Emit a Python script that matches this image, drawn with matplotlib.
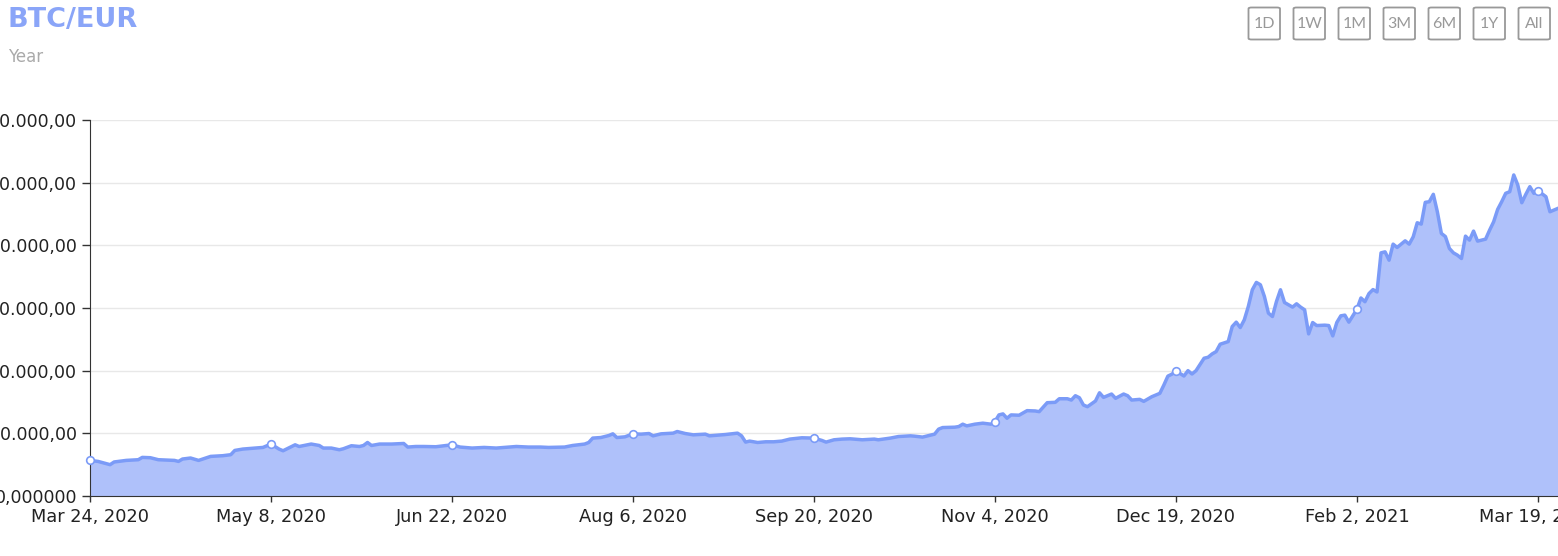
import matplotlib
matplotlib.use("Agg")
from matplotlib import pyplot as plt
from matplotlib.patches import FancyBboxPatch
import numpy as np
import pandas as pd

plt.rcParams['font.family'] = ['DejaVu Sans']

# days after Mar 24, 2020 and BTC/EUR price
days = [0, 2, 5, 6, 9, 12, 13, 15, 17, 21, 22, 23, 25, 27, 30, 33, 35, 36, 38, 43,
        45, 47, 48, 51, 52, 55, 57, 58, 60, 62, 63, 65, 67, 68, 69, 70, 72, 75, 78, 79,
        81, 83, 86, 90, 92, 95, 98, 101, 104, 106, 109, 112, 114, 118, 120, 123, 124, 125, 127, 129,
        130, 131, 133, 135, 137, 139, 140, 142, 145, 146, 148, 150, 153, 154, 156, 158, 161, 162, 163, 164,
        166, 168, 170, 172, 174, 177, 180, 182, 183, 185, 187, 189, 192, 195, 196, 199, 201, 204, 205, 207,
        210, 211, 212, 215, 216, 217, 218, 220, 222, 224, 225, 226, 227, 228, 229, 231, 233, 235, 236, 238,
        240, 241, 243, 244, 245, 246, 247, 248, 250, 251, 252, 254, 255, 257, 258, 259, 261, 262, 264, 266,
        267, 268, 269, 270, 272, 273, 274, 275, 277, 278, 279, 280, 281, 283, 284, 285, 286, 287, 288, 289,
        290, 291, 292, 293, 294, 295, 296, 297, 299, 300, 301, 302, 303, 304, 305, 307, 308, 309, 310, 311,
        312, 313, 315, 316, 317, 318, 319, 320, 321, 322, 323, 324, 325, 327, 328, 329, 330, 331, 332, 333,
        334, 335, 336, 337, 338, 339, 340, 341, 342, 343, 344, 345, 347, 348, 349, 350, 351, 352, 353, 354,
        355, 356, 357, 358, 359, 360, 362, 363, 364, 365]
price = [5680, 5520, 5000, 5430, 5680, 5790, 6160, 6110, 5790, 5680, 5520, 5900, 6060, 5680, 6320, 6430, 6590, 7270, 7490, 7750,
         8290, 7490, 7220, 8170, 7900, 8290, 8060, 7650, 7650, 7380, 7540, 8020, 7900, 8060, 8540, 8060, 8290, 8290, 8380, 7810,
         7900, 7900, 7860, 8170, 7810, 7650, 7750, 7650, 7810, 7900, 7810, 7810, 7750, 7810, 8060, 8290, 8540, 9240, 9330, 9650,
         9920, 9330, 9440, 9920, 9870, 9970, 9600, 9920, 10030, 10290, 9970, 9760, 9870, 9600, 9710, 9810, 10030, 9600, 8600, 8760,
         8540, 8650, 8650, 8760, 9080, 9290, 9240, 8860, 8600, 8970, 9080, 9130, 8970, 9080, 8970, 9240, 9490, 9600, 9550, 9400,
         9870, 10670, 10920, 10980, 11080, 11460, 11190, 11460, 11620, 11460, 11870, 12940, 13100, 12410, 12940, 12890, 13620, 13570, 13460, 14890,
         14950, 15520, 15520, 15310, 16000, 15680, 14520, 14250, 15160, 16470, 15740, 16270, 15590, 16270, 16000, 15310, 15420, 15100, 15840, 16380,
         17700, 19130, 19440, 19970, 19150, 20000, 19470, 20000, 21980, 22140, 22670, 23040, 24220, 24640, 27040, 27740, 26880, 28110, 30240, 32910,
         34080, 33710, 31840, 29180, 28640, 31040, 32910, 30880, 30140, 30670, 30140, 29710, 25870, 27680, 27200, 27260, 27200, 25550, 27680, 28750,
         28860, 27740, 29800, 31600, 31000, 32300, 32940, 32560, 38800, 38960, 37630, 40190, 39660, 40720, 40190, 41360, 43600, 43390, 46860, 46960,
         48140, 45360, 41900, 41400, 39500, 38800, 38430, 37900, 41470, 40830, 42270, 40670, 40990, 42430, 43760, 45740, 46960, 48300, 48560, 51230,
         49630, 46800, 48140, 49360, 48300, 48720, 47760, 45360, 45630, 45900]

tick_dates = ["2020-03-24", "2020-05-08", "2020-06-22", "2020-08-06", "2020-09-20",
              "2020-11-04", "2020-12-19", "2021-02-02", "2021-03-19"]
tick_labels = ["Mar 24, 2020", "May 8, 2020", "Jun 22, 2020", "Aug 6, 2020", "Sep 20, 2020",
               "Nov 4, 2020", "Dec 19, 2020", "Feb 2, 2021", "Mar 19, 2021"]
y_ticks = [0, 10000, 20000, 30000, 40000, 50000, 60000]
y_labels = ["0,000000", "10.000,00", "20.000,00", "30.000,00", "40.000,00", "50.000,00", "60.000,00"]
buttons = ["1D", "1W", "1M", "3M", "6M", "1Y", "All"]

line_col = '#7b9bf7'
fill_col = '#afc1fa'

W, H = 1558, 556
fig = plt.figure(figsize=(W / 100, H / 100), dpi=100)
ax = fig.add_axes([90 / W, (H - 496) / H, (W - 90) / W, (496 - 120) / H])

start = pd.Timestamp("2020-03-24")
dates = start + pd.to_timedelta(days, unit="D")
ax.fill_between(dates, price, 0, color=fill_col, lw=0, zorder=2)
ax.plot(dates, price, color=line_col, lw=2.5, zorder=3, solid_joinstyle='round')

# hollow markers at the tick dates
tk = pd.to_datetime(tick_dates)
mk_y = np.interp((tk - start).days, days, price)
ax.plot(tk, mk_y, 'o', ms=5.5, mfc='white', mec=line_col, mew=1.2, zorder=4, clip_on=False)

ax.set_xlim(start, start + pd.Timedelta(days=365))
ax.set_ylim(0, 60000)
ax.set_xticks(tk)
ax.set_xticklabels(tick_labels)
ax.set_yticks(y_ticks)
ax.set_yticklabels(y_labels)
ax.tick_params(axis='x', labelsize=12.8, colors='#333333', labelcolor='#222222',
               length=4.5, width=1, pad=4.5)
ax.tick_params(axis='y', labelsize=12.5, colors='#333333', labelcolor='#222222',
               length=5.8, width=1, pad=3.6)
ax.grid(axis='y', color='#e8e8e8', lw=1, zorder=0)
ax.set_axisbelow(True)
for s in ['top', 'right']:
    ax.spines[s].set_visible(False)
ax.spines['left'].set_color('#333333')
ax.spines['bottom'].set_color('#333333')
ax.spines['bottom'].set_zorder(5)

fig.text(8 / W, 1 - 20 / H, "BTC/EUR", fontsize=19.5, fontweight='bold', color='#8aa5f8',
         va='center', ha='left')
fig.text(8 / W, 1 - 57.5 / H, "Year", fontsize=12, color='#aaaaaa', va='center', ha='left')

# range buttons
for i, b in enumerate(buttons):
    x0 = 1248.5 + i * 45
    box = FancyBboxPatch((x0 / W, 1 - 39.5 / H), 31.5 / W, 32 / H,
                         boxstyle="round,pad=0,rounding_size=0.002",
                         transform=fig.transFigure, fc='white', ec='#999999', lw=1.3)
    fig.add_artist(box)
    fig.text((x0 + 15.75) / W, 1 - 23.5 / H, b, fontsize=11.5, color='#999999',
             family='Lato', ha='center', va='center')

fig.savefig("out.png", dpi=100)
